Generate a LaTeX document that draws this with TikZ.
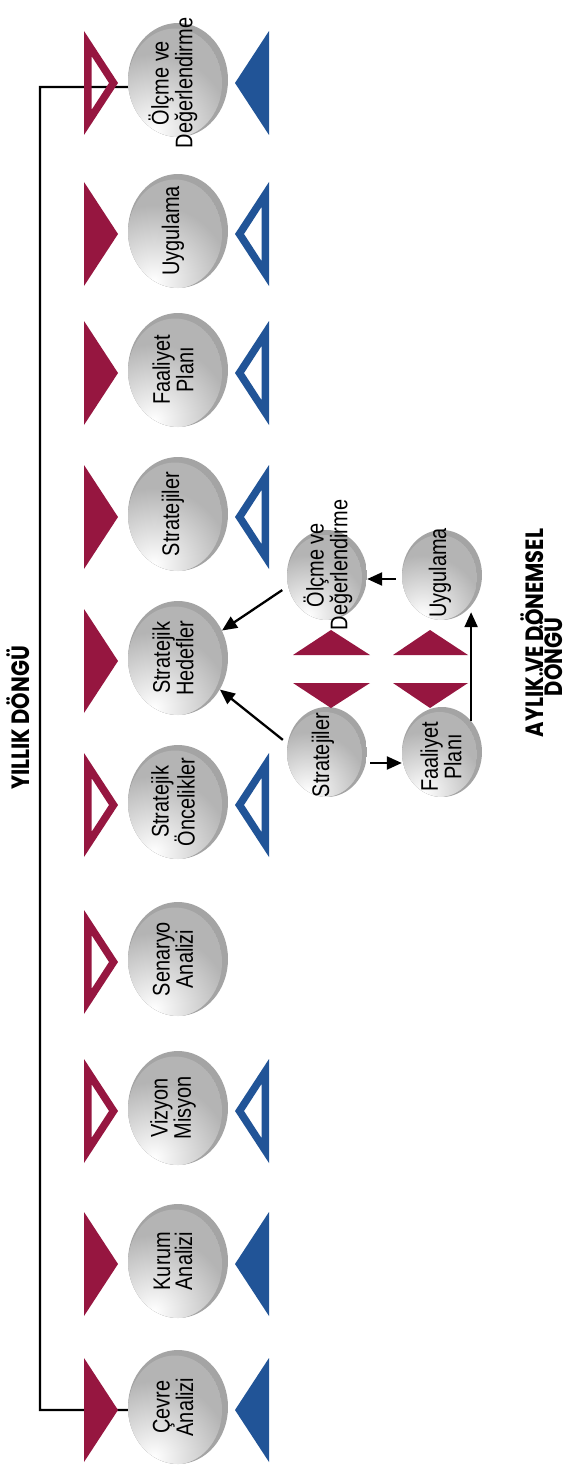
\documentclass[tikz,border=0pt]{standalone}
\usepackage{fontspec}
\setmainfont{Liberation Sans}[FakeStretch=0.83]
\newfontfamily\titlefont{Poppins}[FakeStretch=0.84]
\usetikzlibrary{shapes.geometric,arrows.meta,calc}
\definecolor{crim}{HTML}{961640}
\definecolor{blu}{HTML}{215497}
\definecolor{rimgray}{HTML}{A4A4A4}
\definecolor{facegray}{HTML}{B4B4B4}
\begin{document}
\begin{tikzpicture}[x=1bp,y=-1bp,
  bigdisc/.style={ellipse, minimum width=100bp, minimum height=114bp, inner sep=0pt,
    path picture={
      \fill[rimgray] (path picture bounding box.south west) rectangle (path picture bounding box.north east);
      \begin{scope}
        \clip ([shift={(-3,3)}]path picture bounding box.center) ellipse [x radius=47bp, y radius=54.5bp];
        \fill[facegray] ([shift={(-3,3)}]path picture bounding box.center) ellipse [x radius=47bp, y radius=54.5bp];
        \shade[inner color=white, outer color=facegray] ([shift={(-24,50)}]path picture bounding box.center) circle [radius=76bp];
      \end{scope}}},
  smalldisc/.style={ellipse, minimum width=80bp, minimum height=90bp, inner sep=0pt,
    path picture={
      \fill[rimgray] (path picture bounding box.south west) rectangle (path picture bounding box.north east);
      \begin{scope}
        \clip ([shift={(-2.5,2.5)}]path picture bounding box.center) ellipse [x radius=37.5bp, y radius=42.5bp];
        \fill[facegray] ([shift={(-2.5,2.5)}]path picture bounding box.center) ellipse [x radius=37.5bp, y radius=42.5bp];
        \shade[inner color=white, outer color=facegray] ([shift={(-19,40)}]path picture bounding box.center) circle [radius=60bp];
      \end{scope}}},
  lbl/.style={rotate=90, inner sep=0pt, align=center, text=black,
    font=\fontsize{24bp}{22bp}\selectfont},
  ttl/.style={rotate=90, inner sep=0pt, align=center,
    font=\titlefont\bfseries\fontsize{25bp}{20bp}\selectfont},
  arr/.style={line width=2.3bp, -{Triangle[length=15bp,width=13bp]}},
  ltri/.pic={\fill[crim] (0,-52) -- (0,52) -- (34,0) -- cycle;},
  ltrio/.pic={\fill[crim, even odd rule] (0,-52) -- (0,52) -- (34,0) -- cycle
     (7.5,-27) -- (7.5,27) -- (25,0) -- cycle;},
  rtri/.pic={\fill[blu] (0,-52) -- (0,52) -- (-34,0) -- cycle;},
  rtrio/.pic={\fill[blu, even odd rule] (0,-52) -- (0,52) -- (-34,0) -- cycle
     (-7.5,-27) -- (-7.5,27) -- (-25,0) -- cycle;},
]
\useasboundingbox (0,0) rectangle (576,1471);
\fill[white] (0,0) rectangle (576,1471);

% ---- discs of the yearly cycle
\node[bigdisc] (olcme) at (178,80) {};
\node[bigdisc] (uyg)   at (178,231) {};
\node[bigdisc] (faal)  at (178,370) {};
\node[bigdisc] (strat) at (178,514) {};
\node[bigdisc] (hedef) at (178,658) {};
\node[bigdisc] (onc)   at (178,802) {};
\node[bigdisc] (sen)   at (178,959) {};
\node[bigdisc] (viz)   at (178,1108) {};
\node[bigdisc] (kurum) at (178,1261) {};
\node[bigdisc] (cevre) at (178,1407) {};

% ---- bracket
\coordinate (bx) at (40,87);
\draw[line width=2.3bp] ([yshift=-7bp]olcme.west) -- (bx) |- ([yshift=-3bp]cevre.west);

% ---- triangles
\pic at (84,83) {ltrio};   \pic at (269,83) {rtri};
\pic at (84,234) {ltri};   \pic at (269,234) {rtrio};
\pic at (84,373) {ltri};   \pic at (269,373) {rtrio};
\pic at (84,517) {ltri};   \pic at (269,517) {rtrio};
\pic at (84,661) {ltri};
\pic at (84,805) {ltrio};  \pic at (269,805) {rtrio};
\pic at (84,962) {ltrio};
\pic at (84,1111) {ltrio}; \pic at (269,1111) {rtrio};
\pic at (84,1264) {ltri};  \pic at (269,1264) {rtri};
\pic at (84,1410) {ltri};  \pic at (269,1410) {rtri};

% ---- labels of the yearly cycle
\node[lbl] (olcmeT) at (173,83) {Ölçme ve\\Değerlendirme};
\node[lbl] (uygT)   at (173,231) {Uygulama};
\node[lbl] (faalT)  at (173,370) {Faaliyet\\Planı};
\node[lbl] (stratT) at (173,514) {Stratejiler};
\node[lbl] (hedefT) at (173,658) {Stratejik\\Hedefler};
\node[lbl] (oncT)   at (173,802) {Stratejik\\Öncelikler};
\node[lbl] (senT)   at (173,959) {Senaryo\\Analizi};
\node[lbl] (vizT)   at (173,1108) {Vizyon\\Misyon};
\node[lbl] (kurumT) at (173,1261) {Kurum\\Analizi};
\node[lbl] (cevreT) at (173,1407) {Çevre\\Analizi};

% ---- monthly cycle
\node[smalldisc] (o2) at (327,575) {};
\node[smalldisc] (u2) at (442,575) {};
\node[smalldisc] (s2) at (327,752) {};
\node[smalldisc] (f2) at (442,752) {};

\fill[crim] (293,655) -- (370,655) -- (331,630) -- cycle;
\fill[crim] (293,683) -- (370,683) -- (331,708) -- cycle;
\fill[crim] (393,655) -- (468,655) -- (430,630) -- cycle;
\fill[crim] (393,683) -- (468,683) -- (430,708) -- cycle;

\node[lbl] (o2T) at (328,565) {Ölçme ve\\Değerlendirme};
\node[lbl] (u2T) at (440,573) {Uygulama};
\node[lbl] (s2T) at (323,755) {Stratejiler};
\node[lbl] (f2T) at (441,757) {Faaliyet\\Planı};

\draw[arr, shorten <=7bp] (o2.196) -- (hedef.32);
\draw[arr, shorten <=6bp] (s2.168) -- (hedef.-37);
\draw[arr, shorten <=3bp] ([yshift=-11bp]s2.east) -- ([yshift=-11bp]f2.west);
\draw[arr, shorten >=6bp] (f2.47) -- (u2.-47);
\draw[arr, shorten <=6bp] ([yshift=-4bp]u2.west) -- ([yshift=-4bp]o2.east);

% ---- titles
\node[ttl] (yillik) at (18,718) {YILLIK DÖNGÜ};
\node[ttl] (aylik1) at (532,633) {AYLIK VE DÖNEMSEL};
\node[ttl] (aylik2) at (551,657) {DÖNGÜ};
\end{tikzpicture}
\end{document}
